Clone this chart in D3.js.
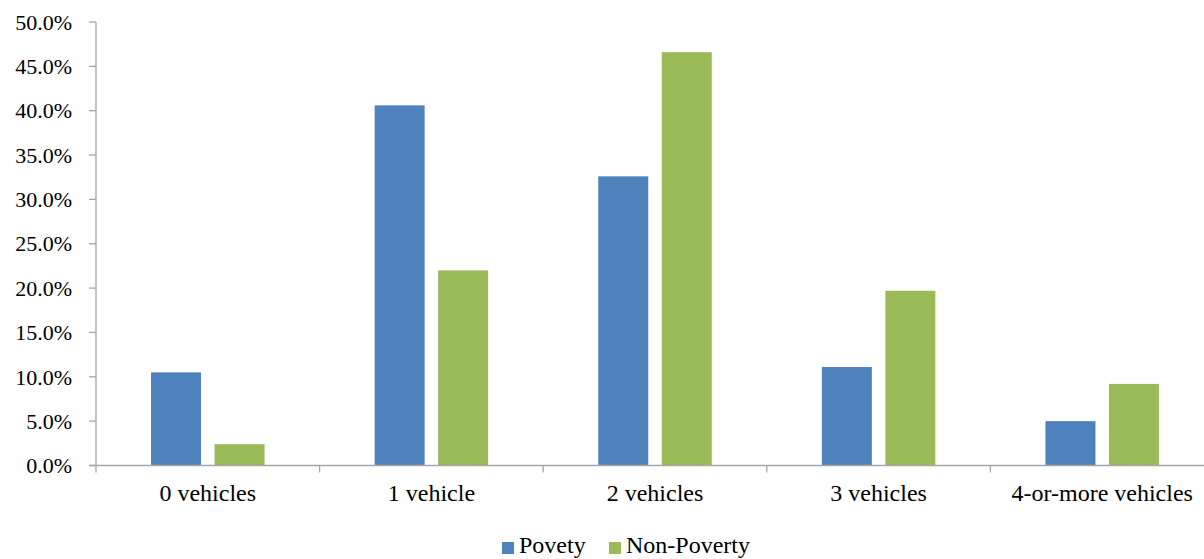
<!DOCTYPE html>
<html><head><meta charset="utf-8">
<script src="https://cdn.jsdelivr.net/npm/d3@7"></script>
<style>body{margin:0;background:#fff}svg{display:block}text{font-family:"Liberation Serif","Times New Roman",serif;fill:#000}</style>
</head><body><svg id="c" width="1204" height="559"></svg>
<script>
const categories = ["0 vehicles","1 vehicle","2 vehicles","3 vehicles","4-or-more vehicles"];
const seriesNames = ["Povety","Non-Poverty"];
const poverty = [10.5, 40.6, 32.6, 11.1, 5.0];
const nonPoverty = [2.4, 22.0, 46.6, 19.7, 9.2];
const yTicks = [0,5,10,15,20,25,30,35,40,45,50];
const colors = ["#4F81BD","#9BBB59"];

const svg = d3.select("#c");
const x0 = 96, x1 = 1214, yTop = 22, yBot = 465.5;
const x = d3.scaleBand().domain(categories).range([x0,x1]);
const y = d3.scaleLinear().domain([0,50]).range([yBot,yTop]);
const bw = 50, gap = 13.5;
const axisColor = "#A6A6A6";
const fsY = 22, fsX = 24;

// y axis
const ya = svg.append("g");
ya.append("line").attr("x1",x0).attr("x2",x0).attr("y1",yTop).attr("y2",yBot).attr("stroke",axisColor).attr("stroke-width",1.3);
yTicks.forEach(t=>{
  ya.append("line").attr("x1",x0-7).attr("x2",x0).attr("y1",y(t)).attr("y2",y(t)).attr("stroke",axisColor).attr("stroke-width",1.3);
  ya.append("text").attr("x",72).attr("y",y(t)).attr("dy","0.35em").attr("text-anchor","end").attr("font-size",fsY).text(t.toFixed(1)+"%");
});

// bars
const data = [poverty, nonPoverty];
categories.forEach((c,i)=>{
  const cx = x(c) + x.bandwidth()/2;
  data.forEach((s,j)=>{
    const left = j===0 ? cx - gap/2 - bw : cx + gap/2;
    svg.append("rect").attr("x",left).attr("y",y(s[i])).attr("width",bw).attr("height",yBot-y(s[i])).attr("fill",colors[j]);
  });
  svg.append("text").attr("x",cx).attr("y",501).attr("text-anchor","middle").attr("font-size",fsX).text(c);
});

// x axis
const xa = svg.append("g");
xa.append("line").attr("x1",x0-7).attr("x2",1204).attr("y1",yBot).attr("y2",yBot).attr("stroke",axisColor).attr("stroke-width",1.3);
categories.forEach((c)=>{
  xa.append("line").attr("x1",x(c)).attr("x2",x(c)).attr("y1",yBot).attr("y2",yBot+7).attr("stroke",axisColor).attr("stroke-width",1.3);
});

// legend
const leg = [{n:seriesNames[0],c:colors[0],x:502,tx:519},{n:seriesNames[1],c:colors[1],x:609,tx:626}];
leg.forEach(l=>{
  svg.append("rect").attr("x",l.x).attr("y",542).attr("width",12).attr("height",12).attr("fill",l.c);
  svg.append("text").attr("x",l.tx).attr("y",553).attr("font-size",fsX).text(l.n);
});
</script></body></html>
